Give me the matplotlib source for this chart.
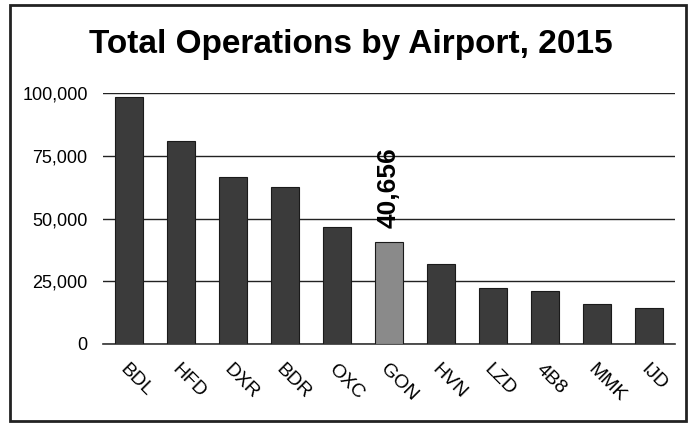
import matplotlib
matplotlib.use("Agg")
import matplotlib.pyplot as plt
from matplotlib.patches import Rectangle
from matplotlib.ticker import FuncFormatter

airports = ["BDL", "HFD", "DXR", "BDR", "OXC", "GON", "HVN", "LZD", "4B8", "MMK", "IJD"]
operations = [98400, 80900, 66500, 62500, 46600, 40656, 31900, 22300, 21100, 15900, 14300]
highlight = "GON"
yticks = [0, 25000, 50000, 75000, 100000]

plt.rcParams['font.family'] = ['Liberation Sans', 'DejaVu Sans']

fig = plt.figure(figsize=(6.91, 4.25), dpi=100)
ax = fig.add_axes([103/691, 1-344/425, 572/691, 251/425])

colors = ["#8a8a8a" if a == highlight else "#3b3b3b" for a in airports]
x = list(range(len(airports)))
ax.bar(x, operations, width=0.54, color=colors, edgecolor="#1a1a1a", linewidth=0.8, zorder=3)

ax.set_xlim(-0.5, len(airports) - 0.5)
ax.set_ylim(0, 100000)
ax.set_yticks(yticks)
ax.yaxis.set_major_formatter(FuncFormatter(lambda v, p: f"{int(v):,}"))
ax.grid(axis="y", color="#222222", linewidth=1.0, zorder=0)
for s in ["top", "right", "left"]:
    ax.spines[s].set_visible(False)
ax.spines["bottom"].set_color("#333333")
ax.spines["bottom"].set_linewidth(1.2)
ax.tick_params(axis="y", length=0, labelsize=13, pad=11)
ax.tick_params(axis="x", length=0, labelsize=14, pad=12)
ax.set_xticks(x)
ax.set_xticklabels(airports, rotation=-45, ha="left", va="top", rotation_mode="anchor")

i = airports.index(highlight)
ax.annotate(f"{operations[i]:,}", (x[i], operations[i]), xytext=(0, 10), textcoords="offset points",
            rotation=90, ha="center", va="bottom", fontsize=19, fontweight="bold")

fig.text(351/691, 1-45/425, "Total Operations by Airport, 2015", ha="center", va="center",
         fontsize=24, fontweight="bold")

fig.patches.append(Rectangle((10/691, 4/425), 676/691, 416/425, transform=fig.transFigure,
                             fill=False, edgecolor="#222222", linewidth=2))

fig.savefig("out.png", dpi=100)
